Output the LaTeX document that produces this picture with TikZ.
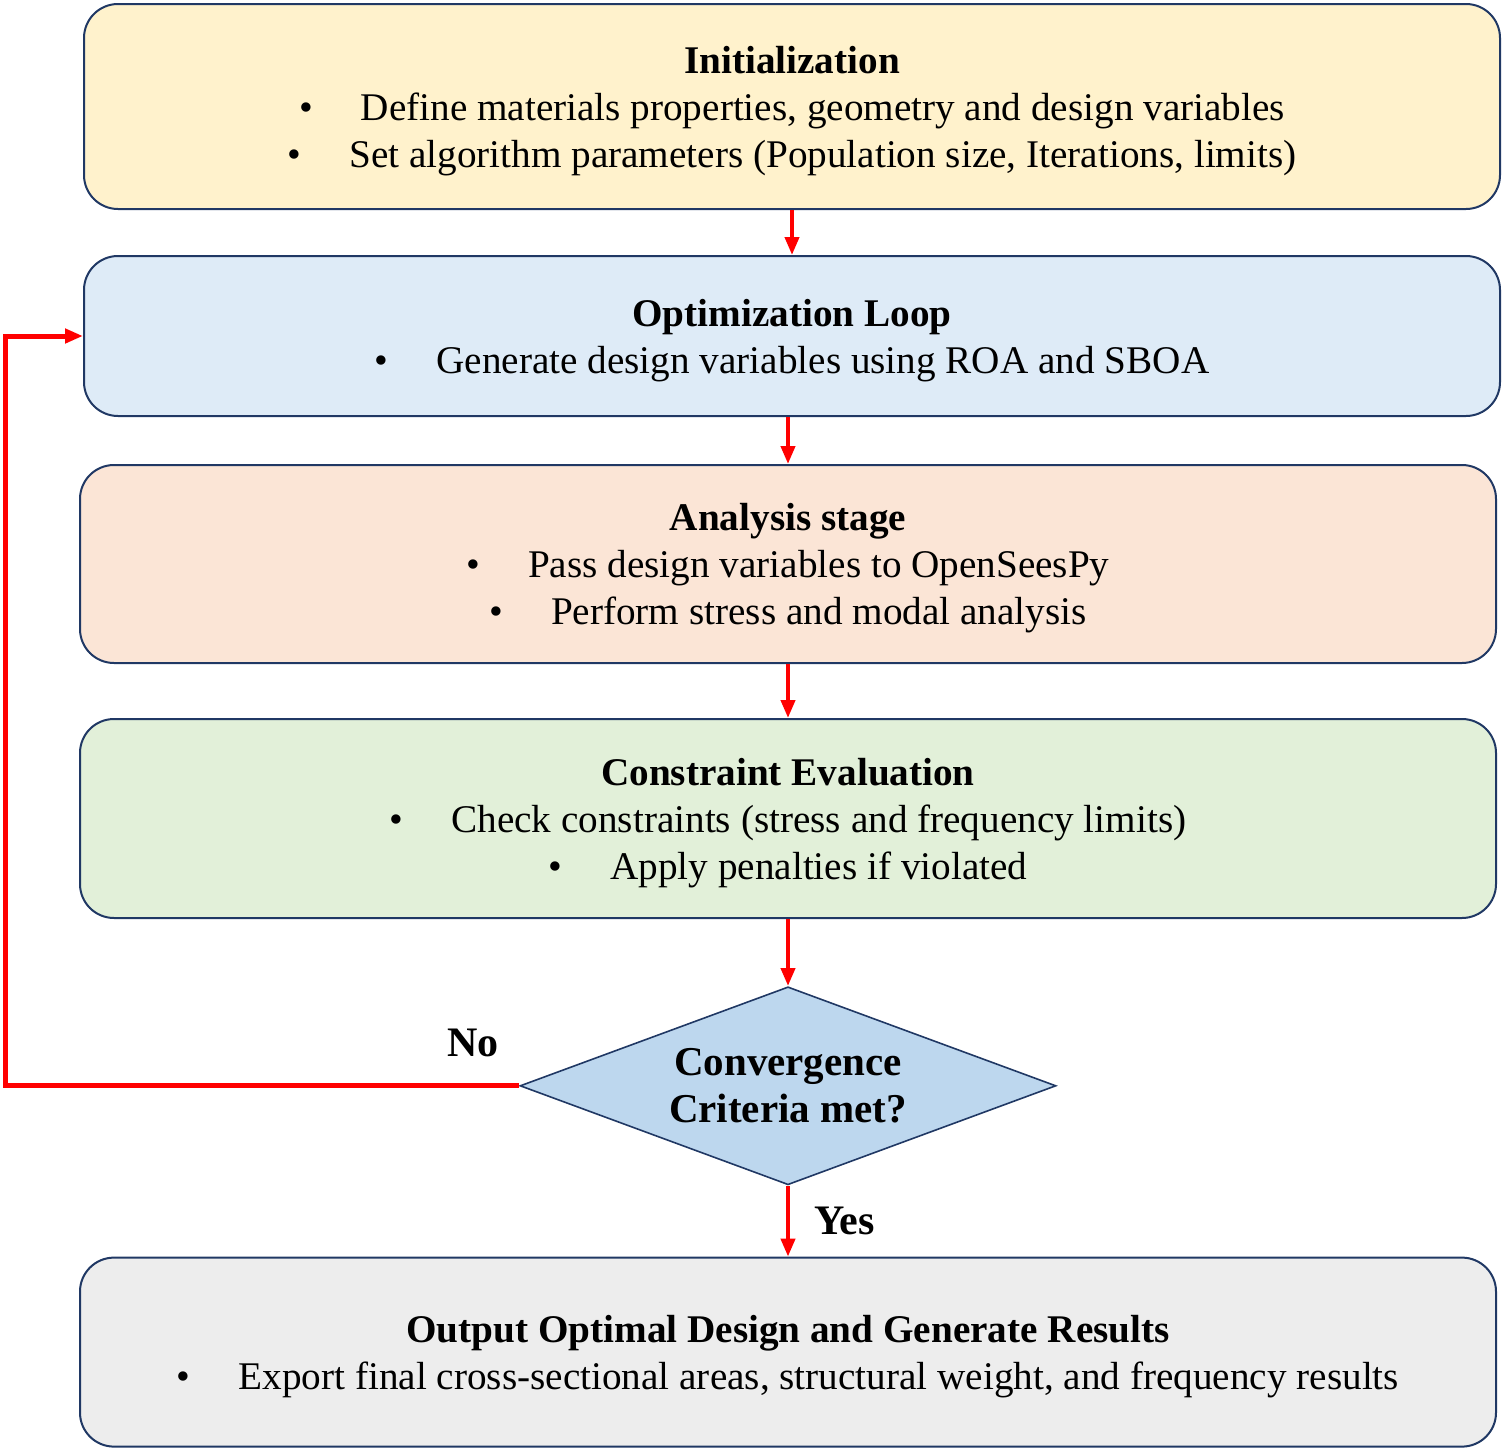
\documentclass[tikz,border=0pt]{standalone}
\usepackage{fontspec}
\setmainfont{Liberation Serif}
\usetikzlibrary{arrows.meta}
\usetikzlibrary{positioning}
\usetikzlibrary{shapes.geometric}

\definecolor{navy}{HTML}{203864}
\definecolor{initfill}{HTML}{FFF2CC}
\definecolor{optfill}{HTML}{DEEBF7}
\definecolor{anafill}{HTML}{FBE5D6}
\definecolor{consfill}{HTML}{E2F0D9}
\definecolor{convfill}{HTML}{BDD7EE}
\definecolor{outfill}{HTML}{EDEDED}
\newcommand{\bul}{\textbullet\hspace{24pt}}
\newcommand{\ttl}[1]{\rule{0pt}{18pt}\textbf{#1}}

\begin{document}
\begin{tikzpicture}[x=0.5pt, y=-0.5pt, node distance=22.5pt,
    box/.style={rectangle, rounded corners=17pt, draw=navy, line width=1pt, minimum width=708pt, align=center, font=\fontsize{19.6}{23.5}\selectfont},
    lbl/.style={inner sep=0pt, text=black, font=\fontsize{21}{24}\selectfont\bfseries},
    flow/.style={red, line width=2pt, -{Triangle[length=9pt, width=7pt]}},
    back/.style={red, line width=2.5pt, -{Triangle[length=9pt, width=7pt]}}]
    \useasboundingbox (0,0) rectangle (1505,1451);

    \node (init) [box, fill=initfill, minimum height=102.5pt] at (792,106.5) {\ttl{Initialization}\\ \bul Define materials properties, geometry and design variables\\ \bul Set algorithm parameters (Population size, Iterations, limits)};
    \node (opt) [box, fill=optfill, minimum height=80pt, below=of init] {\ttl{Optimization Loop}\\ \bul Generate design variables using ROA and SBOA};
    \node (ana) [box, fill=anafill, minimum height=99pt, below=23.5pt of opt, xshift=-2pt] {\ttl{Analysis stage}\\ \bul Pass design variables to OpenSeesPy\\ \bul Perform stress and modal analysis};
    \node (cons) [box, fill=consfill, minimum height=99.5pt, below=27pt of ana] {\ttl{Constraint Evaluation}\\ \bul Check constraints (stress and frequency limits)\\ \bul Apply penalties if violated};
    \node (conv) [diamond, draw=navy, line width=0.8pt, fill=convfill, aspect=2.7, inner sep=0pt, minimum width=268pt, minimum height=99pt, align=center, font=\fontsize{20.5}{23.5}\selectfont\bfseries, below=33.5pt of cons] {Convergence\\ Criteria met?};
    \node (out) [box, fill=outfill, minimum height=94.5pt, below=35.5pt of conv] {\ttl{Output Optimal Design and Generate Results}\\ \bul Export final cross-sectional areas, structural weight, and frequency results};
    \coordinate (turn) at (5,1086);

    \draw[flow] (init) -- (opt);
    \draw[flow] (opt.south -| ana.north) -- (ana);
    \draw[flow] (ana) -- (cons);
    \draw[flow] (cons) -- (conv);
    \draw[flow] (conv) -- node[lbl, right=12pt] {Yes} (out);
    \draw[back] (conv.west) -- node[lbl, above=13pt, pos=0.09] {No} (conv.west -| turn) -- (turn |- opt.west) -- (opt.west);
\end{tikzpicture}
\end{document}
